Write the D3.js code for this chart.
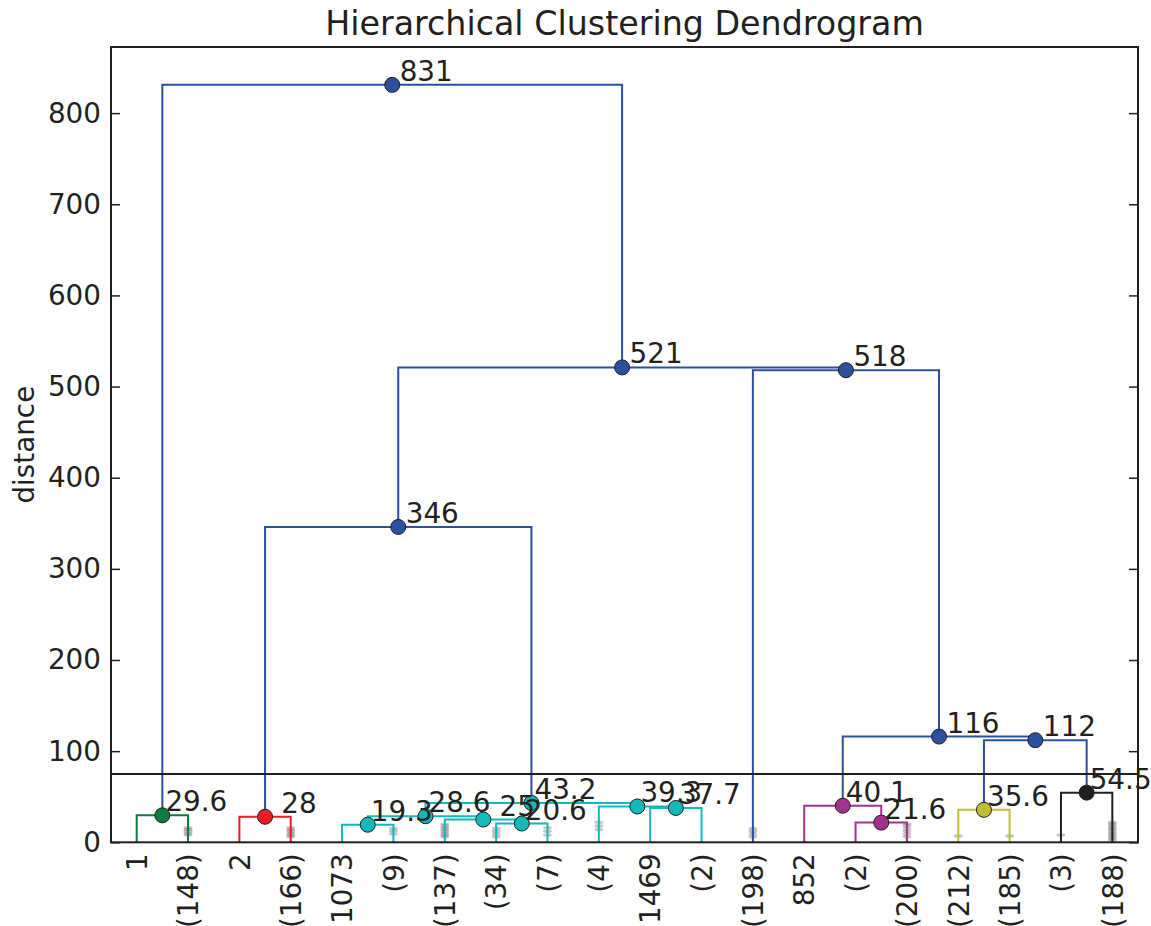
<!DOCTYPE html>
<html>
<head>
<meta charset="utf-8">
<script src="https://cdn.jsdelivr.net/npm/d3@7"></script>
<style>
  html, body { margin: 0; padding: 0; background: #ffffff; }
  svg text { font-family: "DejaVu Sans", sans-serif; fill: #231f20; }
</style>
</head>
<body>
<svg id="chart" width="1151" height="926"></svg>
<script>
// Leaf labels of the truncated tree (last 20 merged clusters)
const leafLabels = ["1", "(148)", "2", "(166)", "1073", "(9)", "(137)", "(34)", "(7)", "(4)",
                    "1469", "(2)", "(198)", "852", "(2)", "(200)", "(212)", "(185)", "(3)", "(188)"];

// Merges in linkage order. Child ids < 20 are leaves, id 20 + k is merge k.
const mergeChildren = [
  [0, 1], [2, 3], [4, 5], [7, 8], [6, 23], [22, 24], [10, 11], [9, 26], [25, 27],
  [14, 15], [13, 29], [16, 17], [18, 19], [31, 32], [30, 33], [12, 34], [21, 28],
  [36, 35], [20, 37]
];
const mergeHeights = [29.6, 28, 19.3, 20.6, 25, 28.6, 37.7, 39.3, 43.2,
                      21.6, 40.1, 35.6, 54.5, 112, 116, 518, 346, 521, 831];
const mergeColors = ["g", "r", "c", "c", "c", "c", "c", "c", "c",
                     "m", "m", "y", "k", "b", "b", "b", "b", "b", "b"];

// Cut-off distance line
const cutoff = 75;

// Contraction marks: [leaf index, heights of the hidden merges]
const contractionMarks = [
  [1, [8, 10, 12, 14, 16]],
  [3, [6, 8, 10, 12, 14, 16]],
  [5, [9, 12, 15]],
  [6, [6, 8, 10, 12, 14, 16, 18, 20]],
  [7, [6, 9, 12, 15]],
  [8, [8, 12, 16]],
  [9, [14, 18, 22]],
  [12, [6, 9, 12, 15]],
  [15, [6, 9, 12, 15, 18, 20]],
  [16, [7]],
  [17, [7]],
  [18, [8]],
  [19, [2, 4, 6, 8, 10, 12, 14, 16, 18, 20, 22]]
];

const yTicks = [0, 100, 200, 300, 400, 500, 600, 700, 800];

const palette = {
  b: "#2c4f9f", g: "#0c7d3d", r: "#ec1c24", c: "#12b8bb",
  m: "#a4308f", y: "#c0bf31", k: "#231f20"
};

const svg = d3.select("#chart");
const plotLeft = 111, plotRight = 1138, plotTop = 47, plotBottom = 842.3;
const yMax = d3.max(mergeHeights) * 1.05;

const x = d3.scaleLinear().domain([0, leafLabels.length * 10]).range([plotLeft, plotRight]);
const y = d3.scaleLinear().domain([0, yMax]).range([plotBottom, plotTop]);

// Node positions: leaves sit at 5, 15, 25, ...; merges at the midpoint of their children
const nodePos = leafLabels.map((_, i) => ({ x: 5 + 10 * i, h: 0 }));
mergeChildren.forEach((c, k) => {
  nodePos.push({ x: (nodePos[c[0]].x + nodePos[c[1]].x) / 2, h: mergeHeights[k] });
});
const merges = mergeChildren.map((c, k) => ({
  a: nodePos[c[0]], b: nodePos[c[1]], h: mergeHeights[k],
  x: nodePos[20 + k].x, color: palette[mergeColors[k]]
}));

// Contraction marks
const marksG = svg.append("g");
contractionMarks.forEach(([leaf, hs]) => {
  hs.forEach(h => {
    marksG.append("ellipse")
      .attr("cx", x(5 + 10 * leaf))
      .attr("cy", y(h))
      .attr("rx", 4.5)
      .attr("ry", 1.8)
      .attr("fill", "#000")
      .attr("fill-opacity", 0.22);
  });
});

// Dendrogram links
svg.append("g").selectAll("path")
  .data(merges)
  .join("path")
  .attr("d", d => `M${x(d.a.x)},${y(d.a.h)}V${y(d.h)}H${x(d.b.x)}V${y(d.b.h)}`)
  .attr("fill", "none")
  .attr("stroke", d => d.color)
  .attr("stroke-width", 2);

// Cut-off line
svg.append("line")
  .attr("x1", plotLeft).attr("x2", plotRight)
  .attr("y1", y(cutoff)).attr("y2", y(cutoff))
  .attr("stroke", "#231f20")
  .attr("stroke-width", 2);

// Merge markers
svg.append("g").selectAll("circle")
  .data(merges)
  .join("circle")
  .attr("cx", d => x(d.x))
  .attr("cy", d => y(d.h))
  .attr("r", 7.5)
  .attr("fill", d => d.color)
  .attr("stroke", "#231f20")
  .attr("stroke-width", 1);

// Axes
const yAxis = svg.append("g")
  .attr("transform", `translate(${plotLeft},0)`)
  .call(d3.axisLeft(y).tickValues(yTicks).tickSize(-9).tickPadding(10));
yAxis.select(".domain").remove();
yAxis.selectAll("line").attr("stroke", "#231f20").attr("stroke-width", 1.5);
yAxis.selectAll("text").attr("font-size", 27.8).attr("font-family", "DejaVu Sans").attr("fill", "#231f20");

const yAxisR = svg.append("g")
  .attr("transform", `translate(${plotRight},0)`)
  .call(d3.axisRight(y).tickValues(yTicks).tickSize(-9).tickFormat(""));
yAxisR.select(".domain").remove();
yAxisR.selectAll("line").attr("stroke", "#231f20").attr("stroke-width", 1.5);

const xAxis = svg.append("g")
  .attr("transform", `translate(0,${plotBottom})`)
  .call(d3.axisBottom(x)
    .tickValues(leafLabels.map((_, i) => 5 + 10 * i))
    .tickFormat((_, i) => leafLabels[i])
    .tickSize(0));
xAxis.select(".domain").remove();
xAxis.selectAll("line").remove();
xAxis.selectAll("text")
  .attr("transform", "rotate(-90)")
  .attr("x", -11)
  .attr("y", 0)
  .attr("dy", "0.35em")
  .attr("text-anchor", "end")
  .attr("font-size", 27.8)
  .attr("font-family", "DejaVu Sans")
  .attr("fill", "#231f20");

// Frame
svg.append("rect")
  .attr("x", plotLeft).attr("y", plotTop)
  .attr("width", plotRight - plotLeft).attr("height", plotBottom - plotTop)
  .attr("fill", "none")
  .attr("stroke", "#231f20")
  .attr("stroke-width", 2);

// Merge distance labels
svg.append("g").selectAll("text")
  .data(merges)
  .join("text")
  .attr("x", d => x(d.x) + 34)
  .attr("y", d => y(d.h) - 4)
  .attr("text-anchor", "middle")
  .attr("font-size", 27.8)
  .text(d => d3.format(".3~g")(d.h));

// Title and axis label
svg.append("text")
  .attr("x", (plotLeft + plotRight) / 2)
  .attr("y", 35)
  .attr("text-anchor", "middle")
  .attr("font-size", 33.3)
  .text("Hierarchical Clustering Dendrogram");

svg.append("text")
  .attr("transform", `translate(34,${(plotTop + plotBottom) / 2}) rotate(-90)`)
  .attr("text-anchor", "middle")
  .attr("font-size", 27.8)
  .text("distance");
</script>
</body>
</html>
